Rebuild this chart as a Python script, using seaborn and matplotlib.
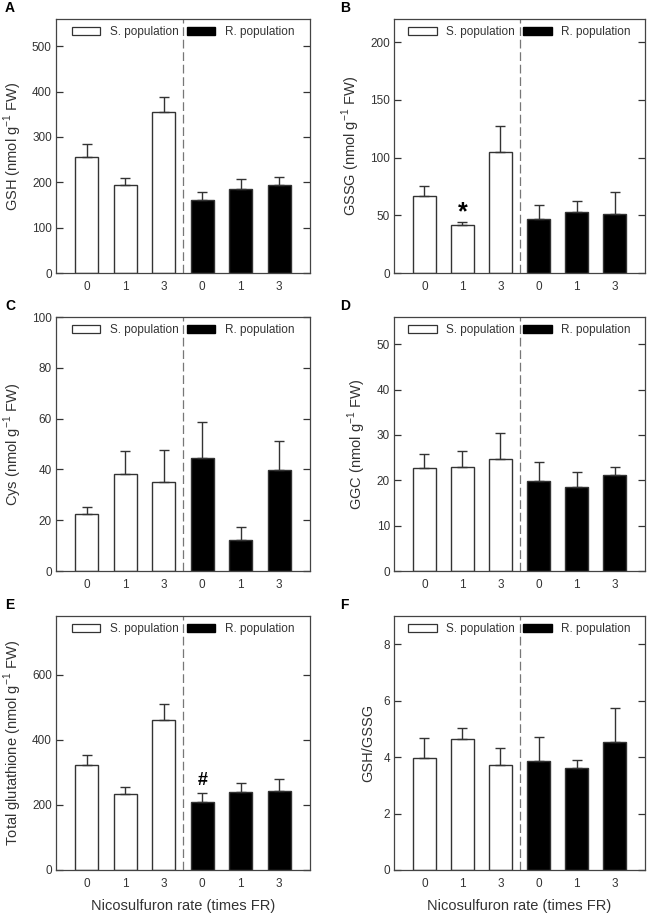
import matplotlib
matplotlib.use("Agg")
import matplotlib.pyplot as plt
import seaborn as sns
import pandas as pd
from matplotlib.patches import Patch

# x categories: three rates for each population
rates = ["0", "1", "3", "0", "1", "3"]
groups = ["S", "S", "S", "R", "R", "R"]

gsh_mean = [255, 193, 356, 162, 186, 193]
gsh_sd = [30, 17, 32, 16, 21, 18]
gssg_mean = [67, 41.5, 105, 47, 53, 51.5]
gssg_sd = [8, 2.5, 22, 12, 9.5, 18.5]
cys_mean = [22.3, 38, 35, 44.5, 12.2, 39.8]
cys_sd = [2.9, 9.2, 12.6, 14.3, 5, 11.4]
ggc_mean = [22.7, 23, 24.8, 19.8, 18.5, 21.1]
ggc_sd = [3.1, 3.4, 5.7, 4.3, 3.4, 1.8]
total_mean = [322, 234, 462, 208, 238, 243]
total_sd = [30, 20, 48, 28, 30, 37]
ratio_mean = [3.97, 4.65, 3.72, 3.87, 3.63, 4.54]
ratio_sd = [0.69, 0.37, 0.61, 0.84, 0.25, 1.19]

unit = r" (nmol g$^{\mathregular{-1}}$ FW)"
panels = [
    ("A", "GSH" + unit, gsh_mean, gsh_sd, 560, 100, None),
    ("B", "GSSG" + unit, gssg_mean, gssg_sd, 220, 50, (1, "*")),
    ("C", "Cys" + unit, cys_mean, cys_sd, 100, 20, None),
    ("D", "GGC" + unit, ggc_mean, ggc_sd, 56, 10, None),
    ("E", "Total glutathione" + unit, total_mean, total_sd, 780, 200, (3, "#")),
    ("F", "GSH/GSSG", ratio_mean, ratio_sd, 9, 2, None),
]

sns.set_style("ticks")
plt.rcParams["font.family"] = ["Liberation Sans", "DejaVu Sans"]
plt.rcParams["mathtext.fontset"] = "custom"
plt.rcParams["mathtext.rm"] = "Liberation Sans"
dark = "#333333"
plt.rcParams["text.color"] = dark
plt.rcParams["axes.labelcolor"] = dark
plt.rcParams["xtick.color"] = dark
plt.rcParams["ytick.color"] = dark

fig = plt.figure(figsize=(6.49, 9.16), dpi=100)
W, H = 649, 916
lefts = [56, 394]
tops = [19, 317, 616]

keys = [g + r for g, r in zip(groups, rates)]
colors = {"S": "white", "R": "black"}

for i, (letter, ylab, mean, sd, ymax, step, mark) in enumerate(panels):
    row, col = divmod(i, 2)
    left = lefts[col]
    width = 254 if col == 0 else 251
    top = tops[row]
    ax = fig.add_axes([left / W, 1 - (top + 254) / H, width / W, 254 / H])

    df = pd.DataFrame({"key": keys, "value": mean, "group": groups})
    sns.barplot(data=df, x="key", y="value", hue="group", order=keys,
                palette=colors, edgecolor=dark, linewidth=1.0, width=0.6,
                dodge=False, legend=False, ax=ax)
    ax.errorbar(range(6), mean, yerr=[[0] * 6, sd], fmt="none",
                ecolor=dark, elinewidth=1.0, capsize=3.6, capthick=1.0)

    ax.axvline(2.5, color="#777777", lw=0.9, ls=(0, (7, 3)))
    ax.set_xlim(-0.8, 5.8)
    ax.set_ylim(0, ymax)
    ax.set_yticks(list(range(0, int(ymax) + 1, step)))
    ax.set_xticks(range(6))
    ax.set_xticklabels(rates)
    ax.tick_params(axis="y", direction="in", left=True, right=True,
                   length=5, width=0.9, labelsize=8.5, pad=3)
    ax.tick_params(axis="x", length=0, labelsize=8.5, pad=6)
    for s in ax.spines.values():
        s.set_color("#444444")
        s.set_linewidth(0.9)
        s.set_visible(True)

    ax.set_ylabel(ylab, fontsize=10.5, labelpad=6)
    if row == 2:
        ax.set_xlabel("Nicosulfuron rate (times FR)", fontsize=10.5, labelpad=6)
    else:
        ax.set_xlabel("")

    if mark is not None:
        j, sym = mark
        if sym == "*":
            ax.text(j, mean[j] + sd[j] - ymax * 0.01, sym, ha="center", va="bottom",
                    fontsize=18, fontweight="bold", color="black")
        else:
            ax.text(j, mean[j] + sd[j] + ymax * 0.015, sym, ha="center", va="bottom",
                    fontsize=13, fontweight="bold", color="black")

    handles = [Patch(facecolor="white", edgecolor=dark, linewidth=0.9),
               Patch(facecolor="black", edgecolor="black")]
    ax.legend(handles, ["S. population", "R. population"], ncol=2,
              loc="upper center", frameon=False, fontsize=8.5,
              handlelength=2.4, handleheight=0.6, handletextpad=0.8,
              columnspacing=0.7, borderaxespad=0.2)

    fig.text((5 if col == 0 else 340) / W, 1 - (top - 11) / H, letter,
             fontsize=10, fontweight="bold", va="center", ha="left", color="black")

fig.savefig("out.png", dpi=100)
